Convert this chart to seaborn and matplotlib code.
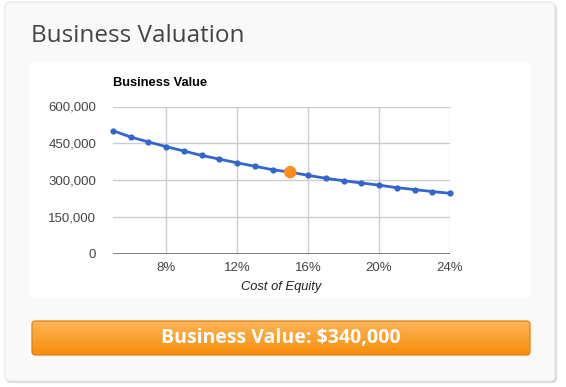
import numpy as np
import pandas as pd
import matplotlib
matplotlib.use("Agg")
import matplotlib.pyplot as plt
from matplotlib.patches import FancyBboxPatch, Rectangle
import seaborn as sns

# ---- data ----
cost_of_equity = [5, 6, 7, 8, 9, 10, 11, 12, 13, 14, 15, 16, 17, 18, 19, 20, 21, 22, 23, 24]
business_value = [502000, 476000, 456000, 437000, 419000, 401000, 386000, 371000, 357000, 343000,
                  333000, 320000, 308000, 298000, 289000, 280000, 270000, 262000, 254000, 247000]
selected_rate = [15]
selected_value = [333000]
x_ticks = [8, 12, 16, 20, 24]
x_tick_labels = ["8%", "12%", "16%", "20%", "24%"]
y_ticks = [0, 150000, 300000, 450000, 600000]
y_tick_labels = ["0", "150,000", "300,000", "450,000", "600,000"]
page_title = "Business Valuation"
chart_title = "Business Value"
x_label = "Cost of Equity"
button_text = "Business Value: $340,000"

W, H = 566, 387
sns.set_theme(style="white")
plt.rcParams['font.family'] = ['Arial', 'Liberation Sans', 'DejaVu Sans']

fig = plt.figure(figsize=(W / 100, H / 100), dpi=100)
fig.patch.set_facecolor("white")

def fx(x):
    return x / W

def fy(y):
    return 1 - y / H

# background axes in pixel coordinates
bg = fig.add_axes([0, 0, 1, 1])
bg.set_zorder(0)
bg.set_xlim(0, W)
bg.set_ylim(H, 0)
bg.axis("off")

bg.add_patch(FancyBboxPatch((6, 4), 551, 379, boxstyle="round,pad=0,rounding_size=5",
                            facecolor="#d9d9d9", edgecolor="none", zorder=0))
bg.add_patch(FancyBboxPatch((5, 2), 550, 379, boxstyle="round,pad=0,rounding_size=5",
                            facecolor="#f9f9f9", edgecolor="#e8e8e8", linewidth=0.8, zorder=1))
bg.add_patch(Rectangle((30, 62), 500, 236, facecolor="white", edgecolor="none", zorder=2))

# button with gradient
bx0, bx1, by0, by1 = 32, 530, 321, 355
grad = np.linspace(0, 1, 100).reshape(-1, 1)
top = np.array([0xfd, 0xb4, 0x58]) / 255
bot = np.array([0xf7, 0x8e, 0x0a]) / 255
img = top[None, None, :] * (1 - grad[:, :, None]) + bot[None, None, :] * grad[:, :, None]
im = bg.imshow(img, aspect="auto", extent=[bx0, bx1, by1, by0], origin="upper", zorder=3)
btn = FancyBboxPatch((bx0, by0), bx1 - bx0, by1 - by0, boxstyle="round,pad=0,rounding_size=3.5",
                     facecolor="none", edgecolor="#e3810c", linewidth=0.9, zorder=4)
bg.add_patch(btn)
im.set_clip_path(btn)
bg.set_xlim(0, W)
bg.set_ylim(H, 0)
bg.text((bx0 + bx1) / 2, (by0 + by1) / 2 + 0.5, button_text, ha="center", va="center",
        color="white", fontsize=14, fontweight="bold", family=["Open Sans", "DejaVu Sans"], zorder=5)

# page title
bg.text(31, 36, page_title, fontsize=17.5, color="#444444",
        family=["Open Sans", "DejaVu Sans"], va="center", ha="left", zorder=5)

# chart axes
ax_left, ax_right, ax_top, ax_bottom = 112.75, 450, 106.5, 254
ax = fig.add_axes([fx(ax_left), fy(ax_bottom), fx(ax_right - ax_left), (ax_bottom - ax_top) / H])
ax.set_zorder(2)
ax.set_facecolor("white")

df = pd.DataFrame({"rate": cost_of_equity, "value": business_value})
sns.lineplot(data=df, x="rate", y="value", ax=ax, color="#3366cc", linewidth=2.0,
             marker="o", markersize=4.5, markeredgewidth=0, zorder=3, clip_on=False)
sns.scatterplot(x=selected_rate, y=selected_value, ax=ax, color="#ff8c1a", s=80,
                edgecolor="none", zorder=4)

ax.set_xlim(5, 24)
ax.set_ylim(0, 600000)
ax.set_xticks(x_ticks)
ax.set_xticklabels(x_tick_labels)
ax.set_yticks(y_ticks)
ax.set_yticklabels(y_tick_labels)
for yv in y_ticks[1:]:
    ax.axhline(yv, color="#cccccc", linewidth=1.0, zorder=1)
for xv in x_ticks:
    ax.axvline(xv, color="#cccccc", linewidth=1.0, zorder=1)
ax.axhline(0, color="#666666", linewidth=1.2, zorder=2)
for s in ax.spines.values():
    s.set_visible(False)
ax.tick_params(axis="both", length=0, labelsize=9.5, labelcolor="#444444")
ax.tick_params(axis="y", pad=12)
ax.tick_params(axis="x", pad=6)
ax.set_xlabel("")
ax.set_ylabel("")

fig.text(fx(113), fy(83), chart_title, fontsize=9.3, fontweight="bold", color="#000000",
         ha="left", va="center", zorder=5)
fig.text(fx(281), fy(287), x_label, fontsize=9.3, fontstyle="italic", color="#222222",
         ha="center", va="center", zorder=5)

fig.savefig("out.png", dpi=100, facecolor="white")
